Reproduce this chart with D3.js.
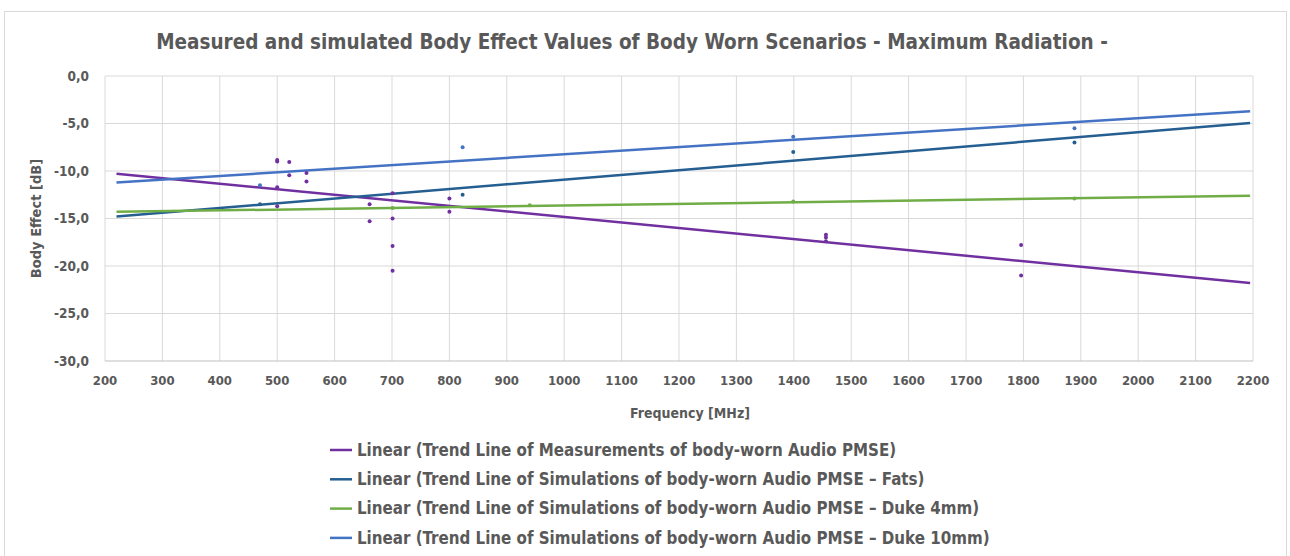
<!DOCTYPE html>
<html>
<head>
<meta charset="utf-8">
<script src="https://cdn.jsdelivr.net/npm/d3@7"></script>
<style>
  body { margin: 0; background: #fff; }
  text { font-family: "Liberation Sans Narrow", "DejaVu Sans Condensed", "Arial Narrow", sans-serif; font-weight: bold; fill: #595959; }
</style>
</head>
<body>
<div id="chart"></div>
<script>
const title = "Measured and simulated  Body Effect Values of Body Worn Scenarios - Maximum Radiation -";
const seriesNames = [
  "Linear (Trend Line of Measurements of body-worn Audio PMSE)",
  "Linear (Trend Line of Simulations of body-worn Audio PMSE \u2013 Fats)",
  "Linear (Trend Line of Simulations of body-worn Audio PMSE \u2013 Duke 4mm)",
  "Linear (Trend Line of Simulations of body-worn Audio PMSE \u2013 Duke 10mm)"
];
const colors = ["#7030A0", "#255E91", "#70AD47", "#4472C4"];

// scatter points [MHz, dB]
const measured = [[500,-9.0],[500,-8.85],[500,-11.7],[500,-13.7],[521,-9.05],[521,-10.45],[551,-10.2],[551,-11.1],
  [661,-13.5],[661,-15.3],[701,-12.35],[701,-15.0],[701,-17.9],[701,-20.5],[800,-12.9],[800,-14.3],
  [1456,-16.7],[1456,-17.0],[1456,-17.4],[1796,-17.8],[1796,-21.0]];
const fats = [[470,-13.5],[823,-12.5],[1399,-8.0],[1889,-7.0]];
const duke4 = [[701,-13.9],[940,-13.6],[1399,-13.2],[1889,-12.9]];
const duke10 = [[470,-11.5],[823,-7.5],[1399,-6.4],[1889,-5.5]];

// trend line end points [MHz, dB]
const trendMeasured = [[220,-10.3],[2195,-21.8]];
const trendFats = [[220,-14.8],[2195,-4.95]];
const trendDuke4 = [[220,-14.3],[2195,-12.6]];
const trendDuke10 = [[220,-11.2],[2195,-3.7]];

const xTicks = d3.range(200, 2201, 100);
const yTicks = d3.range(-30, 0.1, 5);

const W = 1290, H = 556;
const margin = {left: 105, right: 37, top: 76, bottom: 195};

const svg = d3.select("#chart").append("svg")
    .attr("width", W).attr("height", H);

// outer frame
svg.append("rect")
    .attr("x", 4.5).attr("y", 11.5)
    .attr("width", 1282).attr("height", 560)
    .attr("fill", "#fff").attr("stroke", "#d9d9d9");

const x = d3.scaleLinear().domain([200, 2200]).range([margin.left, W - margin.right]);
const y = d3.scaleLinear().domain([-30, 0]).range([H - margin.bottom, margin.top]);

// grid
svg.append("g").selectAll("line")
  .data(xTicks)
  .join("line")
    .attr("x1", d => x(d)).attr("x2", d => x(d))
    .attr("y1", y(0)).attr("y2", y(-30))
    .attr("stroke", "#d9d9d9").attr("stroke-width", 1);
svg.append("g").selectAll("line")
  .data(yTicks)
  .join("line")
    .attr("x1", x(200)).attr("x2", x(2200))
    .attr("y1", d => y(d)).attr("y2", d => y(d))
    .attr("stroke", d => d === -30 ? "#bfbfbf" : "#d9d9d9").attr("stroke-width", 1);

// tick labels
const fmt = d => d3.format(".1f")(d).replace(".", ",").replace("\u2212", "-");
svg.append("g").selectAll("text")
  .data(yTicks)
  .join("text")
    .attr("x", x(200) - 16).attr("y", d => y(d))
    .attr("dy", "0.35em").attr("text-anchor", "end")
    .style("font-size", "13.5px")
    .text(d => fmt(d));
svg.append("g").selectAll("text")
  .data(xTicks)
  .join("text")
    .attr("x", d => x(d)).attr("y", y(-30) + 24)
    .attr("text-anchor", "middle")
    .style("font-size", "13px")
    .text(d => d);

// axis titles
svg.append("text")
    .attr("transform", `translate(41,${(y(0) + y(-30)) / 2}) rotate(-90)`)
    .attr("text-anchor", "middle")
    .style("font-size", "14.5px")
    .text("Body Effect [dB]");
svg.append("text")
    .attr("x", 690).attr("y", 418)
    .attr("text-anchor", "middle")
    .style("font-size", "14px")
    .text("Frequency [MHz]");

// title
svg.append("text")
    .attr("x", 632).attr("y", 49)
    .attr("text-anchor", "middle")
    .style("font-size", "20.5px")
    .text(title);

// trend lines
const line = d3.line().x(d => x(d[0])).y(d => y(d[1]));
const trends = [trendMeasured, trendFats, trendDuke4, trendDuke10];
svg.append("g").selectAll("path")
  .data(trends)
  .join("path")
    .attr("d", d => line(d))
    .attr("fill", "none")
    .attr("stroke", (_, i) => colors[i])
    .attr("stroke-width", 2.5);

// scatter points
const sets = [measured, fats, duke4, duke10];
sets.forEach((pts, i) => {
  svg.append("g").selectAll("circle")
    .data(pts)
    .join("circle")
      .attr("cx", d => x(d[0]))
      .attr("cy", d => y(d[1]))
      .attr("r", 2)
      .attr("fill", colors[i]);
});

// legend
const legend = svg.append("g").selectAll("g")
  .data(seriesNames)
  .join("g")
    .attr("transform", (_, i) => `translate(330,${450 + i * 29.3})`);
legend.append("line")
    .attr("x1", 0).attr("x2", 22)
    .attr("stroke", (_, i) => colors[i])
    .attr("stroke-width", 2.5);
legend.append("text")
    .attr("x", 27).attr("dy", "0.35em")
    .style("font-size", "16.8px")
    .text(d => d);
</script>
</body>
</html>
